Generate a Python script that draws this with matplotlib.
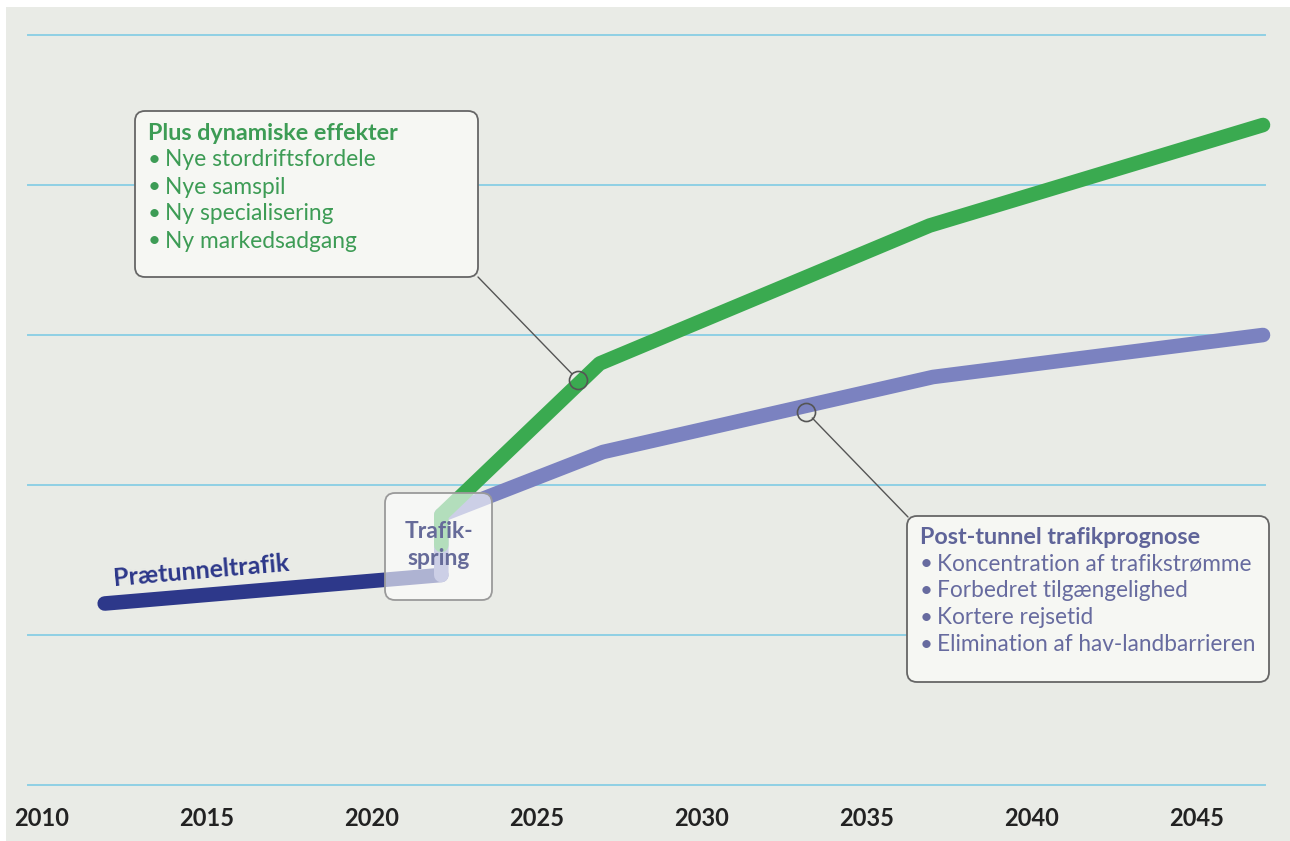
import matplotlib
matplotlib.use("Agg")
import matplotlib.pyplot as plt
from matplotlib.patches import FancyBboxPatch, Rectangle
from matplotlib.transforms import Affine2D

W, H = 1290, 841

# data (index units: one gridline step = 1)
pre_years = [2011.9, 2022.1]
pre_vals = [1.21, 1.40]
blue_years = [2022.1, 2022.1, 2027.0, 2037.0, 2047.0]
blue_vals = [1.40, 1.80, 2.22, 2.72, 3.00]
green_years = [2022.1, 2022.1, 2026.9, 2036.9, 2047.0]
green_vals = [1.60, 1.80, 2.81, 3.73, 4.40]
tick_years = [2010, 2015, 2020, 2025, 2030, 2035, 2040, 2045]
grid_levels = [0, 1, 2, 3, 4, 5]
green_marker = (2026.24, 2.70)
blue_marker = (2033.15, 2.49)

green_title = "Plus dynamiske effekter"
green_items = ["Nye stordriftsfordele", "Nye samspil", "Ny specialisering", "Ny markedsadgang"]
blue_title = "Post-tunnel trafikprognose"
blue_items = ["Koncentration af trafikstrømme", "Forbedret tilgængelighed",
              "Kortere rejsetid", "Elimination af hav-landbarrieren"]

GREEN = "#3aaa50"
GREEN_TXT = "#3d9c55"
LAV = "#7b82c0"
LAV_TXT = "#676b9f"
NAVY = "#2d388a"
BG = "#e9ebe6"

plt.rcParams['font.family'] = ['Lato', 'DejaVu Sans']

fig = plt.figure(figsize=(W / 100, H / 100), dpi=100, facecolor="white")
# transform: image pixels, y pointing down
px = Affine2D().scale(1 / W, -1 / H).translate(0, 1) + fig.transFigure

fig.patches.append(Rectangle((6, 7), W - 6, H - 7, transform=px, facecolor=BG,
                             edgecolor="none", zorder=-5))

ax = fig.add_axes([28 / W, (H - 785) / H, (1265 - 28) / W, 750 / H])
ax.set_zorder(1)
ax.set_facecolor("none")
ax.set_xlim(2010 - 14 / 33, 2010 + 1223 / 33)
ax.set_ylim(0, 5)
for s in ax.spines.values():
    s.set_visible(False)
ax.set_yticks([])
ax.set_xticks(tick_years)
ax.set_xticklabels([str(t) for t in tick_years], fontsize=17, fontweight="bold", color="#222222")
ax.tick_params(axis="x", length=0, pad=16)

for g in grid_levels:
    ax.axhline(g, color="#8fd0e4", lw=1.4, zorder=1, clip_on=False)

ax.plot(pre_years, pre_vals, color=NAVY, lw=10.5, solid_capstyle="round", zorder=3, clip_on=False)
ax.plot(blue_years, blue_vals, color=LAV, lw=10.5, solid_capstyle="round",
        solid_joinstyle="round", zorder=3, clip_on=False)
ax.plot(green_years, green_vals, color=GREEN, lw=10.5, solid_capstyle="round",
        solid_joinstyle="round", zorder=4, clip_on=False)

for mx, my in [green_marker, blue_marker]:
    ax.plot(mx, my, marker="o", ms=13, mfc="none", mec="#555555", mew=1.2, zorder=6)

# leader lines
ax.annotate("", xy=green_marker, xytext=(478, 277), textcoords=px,
            arrowprops=dict(arrowstyle="-", color="#555555", lw=1, shrinkA=0, shrinkB=6.5), zorder=6)
ax.annotate("", xy=blue_marker, xytext=(908, 517), textcoords=px,
            arrowprops=dict(arrowstyle="-", color="#555555", lw=1, shrinkA=0, shrinkB=6.5), zorder=6)

box_tr = Affine2D().scale(1 / W, -1 / H).translate(0, 1) + ax.figure.transFigure


def box(x0, y0, x1, y1, fc, ec, z=7):
    p = FancyBboxPatch((x0 + 10, y0 + 10), x1 - x0 - 20, y1 - y0 - 20,
                       boxstyle="round,pad=10,rounding_size=10", transform=box_tr,
                       facecolor=fc, edgecolor=ec, lw=1.3, zorder=z, clip_on=False)
    ax.add_artist(p)


box(135, 111, 478, 277, "#f6f7f3", "#666666")
box(907, 516, 1269, 682, "#f6f7f3", "#666666")
box(385, 493, 492, 600, (1, 1, 1, 0.62), "#9a9a9a")


def label(x, y, s, **kw):
    ax.text(x, y, s, transform=px, va="center", zorder=8, clip_on=False, **kw)


label(148, 133, green_title, fontsize=16.8, fontweight="bold", color=GREEN_TXT)
for i, item in enumerate(green_items):
    y = 160 + 27 * i
    label(148, y, "•", fontsize=16, color=GREEN_TXT)
    label(165, y, item, fontsize=16.4, color=GREEN_TXT)

label(920, 538, blue_title, fontsize=16.8, fontweight="bold", color="#5f6499")
for i, item in enumerate(blue_items):
    y = 564 + 27 * i
    label(920, y, "•", fontsize=16, color=LAV_TXT)
    label(937, y, item, fontsize=16.3, color=LAV_TXT)

label(439, 545, "Trafik-\nspring", fontsize=16.5, fontweight="bold",
      color="#666b99", ha="center", linespacing=1.3)

label(201, 571, "Prætunneltrafik", fontsize=18, fontweight="bold",
      color=NAVY, ha="center", rotation=5)

fig.savefig("out.png", dpi=100, facecolor=fig.get_facecolor())
